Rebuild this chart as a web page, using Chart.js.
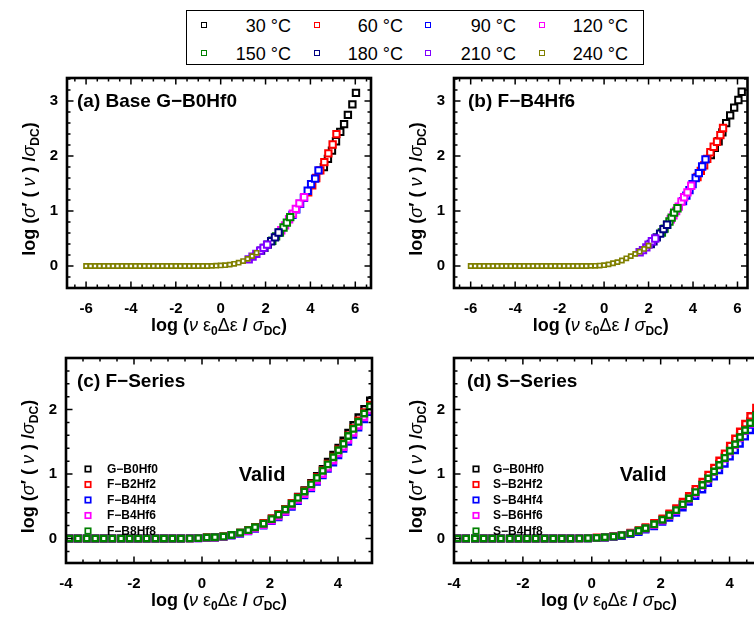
<!DOCTYPE html>
<html>
<head>
<meta charset="utf-8">
<script src="https://cdn.jsdelivr.net/npm/chart.js@4.4.1/dist/chart.umd.min.js"></script>
<style>
html,body{margin:0;padding:0;width:754px;height:619px;overflow:hidden;background:#fff;}
canvas{position:absolute;}
#topLegend{position:absolute;left:186px;top:10px;width:458px;height:55px;box-sizing:border-box;border:1.5px solid #000;font-family:'Liberation Sans',Arial,sans-serif;font-size:18px;color:#000;}
#topLegend .mk{position:absolute;width:4px;height:4px;border:1.8px solid #000;background:#fff;}
#topLegend .tx{position:absolute;width:80px;text-align:right;line-height:20px;white-space:nowrap;}
</style>
</head>
<body>
<div id="topLegend"></div>
<canvas id="pa" width="380" height="280" style="left:0px;top:60px"></canvas>
<canvas id="pb" width="374" height="280" style="left:380px;top:60px"></canvas>
<canvas id="pc" width="380" height="279" style="left:0px;top:340px"></canvas>
<canvas id="pd" width="400" height="279" style="left:380px;top:340px"></canvas>
<script>
// ---------------- DATA ----------------
const tempLabels = ['30 °C','60 °C','90 °C','120 °C','150 °C','180 °C','210 °C','240 °C'];
const tempColors = ['#000000','#FF0000','#0000FF','#FF00FF','#008000','#000080','#8000FF','#808000'];

// Panel (a) Base G−B0Hf0
const A_x30  = [4.60, 4.78, 4.96, 5.14, 5.33, 5.50, 5.67, 5.87, 6.03];
const A_y30  = [1.80, 1.95, 2.10, 2.27, 2.44, 2.58, 2.75, 2.94, 3.15];
const A_x60  = [3.90, 4.08, 4.26, 4.44, 4.62, 4.80, 4.99, 5.16];
const A_y60  = [1.34, 1.47, 1.60, 1.74, 1.89, 2.05, 2.21, 2.40];
const A_x90  = [3.20, 3.37, 3.54, 3.71, 3.88, 4.03, 4.21, 4.36];
const A_y90  = [0.93, 1.03, 1.13, 1.24, 1.37, 1.49, 1.59, 1.74];
const A_x120 = [2.70, 2.87, 3.05, 3.22, 3.35, 3.51, 3.72];
const A_y120 = [0.65, 0.74, 0.85, 0.95, 1.04, 1.14, 1.25];
const A_x150 = [2.30, 2.47, 2.64, 2.80, 2.95, 3.10];
const A_y150 = [0.46, 0.54, 0.61, 0.70, 0.79, 0.89];
const A_x180 = [1.80, 1.95, 2.10, 2.25, 2.42, 2.58];
const A_y180 = [0.28, 0.33, 0.39, 0.45, 0.52, 0.61];
const A_x210 = [1.25, 1.42, 1.59, 1.76, 1.91, 2.07];
const A_y210 = [0.12, 0.17, 0.22, 0.28, 0.33, 0.39];
const A_x240 = [-6.0,-5.8,-5.6,-5.4,-5.2,-5.0,-4.8,-4.6,-4.4,-4.2,-4.0,-3.8,-3.6,-3.4,-3.2,-3.0,-2.8,-2.6,-2.4,-2.2,-2.0,-1.8,-1.6,-1.4,-1.2,-1.0,-0.8,-0.6,-0.4,-0.2,0.0,0.2,0.4,0.6,0.8,1.0,1.2,1.4,1.6];
const A_y240 = [0,0,0,0,0,0,0,0,0,0,0,0,0,0,0,0,0,0,0,0,0,0,0,0,0,0,0,0,0.003,0.006,0.01,0.015,0.025,0.04,0.06,0.09,0.13,0.18,0.24];

// Panel (b) F−B4Hf6
const B_x30  = [4.80, 4.98, 5.15, 5.32, 5.49, 5.67, 5.85, 6.04, 6.19];
const B_y30  = [2.02, 2.15, 2.27, 2.43, 2.60, 2.74, 2.88, 3.02, 3.17];
const B_x60  = [4.20, 4.35, 4.50, 4.64, 4.78, 4.93, 5.08, 5.23, 5.35];
const B_y60  = [1.62, 1.73, 1.83, 1.95, 2.07, 2.17, 2.26, 2.38, 2.51];
const B_x90  = [3.55, 3.70, 3.84, 3.98, 4.12, 4.26, 4.41, 4.56];
const B_y90  = [1.18, 1.28, 1.38, 1.49, 1.60, 1.69, 1.81, 1.94];
const B_x120 = [3.00, 3.12, 3.24, 3.36, 3.48, 3.60, 3.75, 3.92];
const B_y120 = [0.85, 0.92, 1.00, 1.08, 1.17, 1.25, 1.34, 1.46];
const B_x150 = [2.60, 2.72, 2.84, 2.94, 3.04, 3.15, 3.30];
const B_y150 = [0.61, 0.68, 0.75, 0.81, 0.88, 0.97, 1.05];
const B_x180 = [2.10, 2.22, 2.37, 2.52, 2.67, 2.83];
const B_y180 = [0.40, 0.45, 0.52, 0.59, 0.67, 0.75];
const B_x210 = [1.60, 1.75, 1.90, 2.00, 2.15, 2.30];
const B_y210 = [0.25, 0.29, 0.34, 0.39, 0.45, 0.50];
const B_x240 = [-6.0,-5.8,-5.6,-5.4,-5.2,-5.0,-4.8,-4.6,-4.4,-4.2,-4.0,-3.8,-3.6,-3.4,-3.2,-3.0,-2.8,-2.6,-2.4,-2.2,-2.0,-1.8,-1.6,-1.4,-1.2,-1.0,-0.8,-0.6,-0.4,-0.2,0.0,0.2,0.4,0.6,0.8,1.0,1.2,1.4,1.6,1.8,2.0];
const B_y240 = [0,0,0,0,0,0,0,0,0,0,0,0,0,0,0,0,0,0,0,0,0,0,0,0,0,0,0,0.002,0.004,0.008,0.015,0.03,0.05,0.07,0.10,0.14,0.18,0.22,0.26,0.31,0.37];

// Panels (c) and (d): shared scaled-frequency positions
const CD_x = [-3.90,-3.65,-3.39,-3.14,-2.89,-2.64,-2.38,-2.13,-1.88,-1.63,-1.37,-1.12,-0.87,-0.62,-0.36,-0.11,
  0.14,0.38,0.63,0.87,1.12,1.36,1.56,1.81,2.05,2.25,2.45,2.64,2.82,3.01,3.21,3.38,3.55,3.70,3.86,4.01,4.16,4.30,4.45,4.60,4.77,4.94];

const C_labels = ['G−B0Hf0','F−B2Hf2','F−B4Hf4','F−B4Hf6','F−B8Hf8'];
const D_labels = ['G−B0Hf0','S−B2Hf2','S−B4Hf4','S−B6Hf6','S−B4Hf8'];
const sampleColors = ['#000000','#FF0000','#0000FF','#FF00FF','#008000'];

const C_y0 = [0,0,0,0,0,0,0,0,0,0,0,0,0,0,0.002,0.006, 0.015,0.02,0.03,0.055,0.09,0.13,0.175,0.235,0.31,0.38,0.46,0.55,0.65,0.75,0.86,0.97,1.08,1.19,1.30,1.41,1.52,1.64,1.76,1.88,2.01,2.14];
const C_y1 = [0,0,0,0,0,0,0,0,0,0,0,0,0,0,0.002,0.006, 0.015,0.02,0.03,0.055,0.09,0.13,0.18,0.24,0.31,0.38,0.46,0.55,0.64,0.74,0.85,0.95,1.06,1.16,1.27,1.38,1.48,1.60,1.71,1.83,1.96,2.07];
const C_y2 = [0,0,0,0,0,0,0,0,0,0,0,0,0,0,0.002,0.005, 0.01,0.015,0.025,0.045,0.075,0.11,0.15,0.20,0.27,0.33,0.41,0.49,0.58,0.67,0.78,0.88,0.98,1.08,1.18,1.29,1.39,1.50,1.61,1.72,1.85,1.96];
const C_y3 = [0,0,0,0,0,0,0,0,0,0,0,0,0,0,0.002,0.005, 0.01,0.015,0.025,0.05,0.08,0.115,0.16,0.21,0.28,0.345,0.42,0.51,0.60,0.69,0.80,0.90,1.00,1.10,1.21,1.32,1.42,1.53,1.64,1.75,1.88,1.99];
const C_y4 = [0,0,0,0,0,0,0,0,0,0,0,0,0,0,0.002,0.006, 0.015,0.02,0.03,0.055,0.09,0.13,0.175,0.23,0.30,0.37,0.45,0.54,0.63,0.73,0.84,0.94,1.05,1.15,1.26,1.37,1.47,1.59,1.70,1.81,1.94,2.05];

const D_y0 = [0,0,0,0,0,0,0,0,0,0,0,0,0,0,0.002,0.005, 0.01,0.02,0.03,0.05,0.08,0.12,0.16,0.22,0.29,0.37,0.45,0.54,0.63,0.73,0.84,0.94,1.05,1.16,1.27,1.38,1.48,1.59,1.70,1.82,1.93,2.04];
const D_y1 = [0,0,0,0,0,0,0,0,0,0,0,0,0,0,0.002,0.006, 0.015,0.02,0.035,0.055,0.09,0.13,0.175,0.24,0.31,0.39,0.47,0.57,0.66,0.77,0.88,0.99,1.10,1.21,1.32,1.44,1.55,1.66,1.78,1.90,2.03,2.15];
const D_y2 = [0,0,0,0,0,0,0,0,0,0,0,0,0,0,0.002,0.004, 0.01,0.015,0.025,0.04,0.07,0.10,0.14,0.19,0.26,0.32,0.40,0.48,0.57,0.66,0.76,0.86,0.96,1.06,1.16,1.27,1.37,1.47,1.58,1.68,1.80,1.90];
const D_y3 = [0,0,0,0,0,0,0,0,0,0,0,0,0,0,0.002,0.005, 0.01,0.02,0.03,0.05,0.08,0.115,0.155,0.21,0.28,0.35,0.43,0.52,0.61,0.71,0.82,0.92,1.03,1.13,1.24,1.35,1.45,1.56,1.67,1.78,1.89,2.00];
const D_y4 = [0,0,0,0,0,0,0,0,0,0,0,0,0,0,0.002,0.005, 0.01,0.02,0.03,0.05,0.08,0.12,0.16,0.22,0.29,0.36,0.44,0.53,0.62,0.72,0.83,0.93,1.04,1.14,1.25,1.36,1.46,1.57,1.68,1.79,1.90,2.00];

// tick labels
const xTicksAB = [-6,-4,-2,0,2,4,6];
const yTicksAB = [0,1,2,3];
const xTicksCD = [-4,-2,0,2,4];
const yTicksCD = [0,1,2];

// ---------------- DRAWING ----------------
const FONT = "'Liberation Sans', Arial, Helvetica, sans-serif";
const B18 = `bold 18px ${FONT}`, N18 = `18px ${FONT}`, I18 = `italic 18px ${FONT}`, S12 = `bold 12px ${FONT}`;
const xTitleSegs = [{t:'log (',f:B18},{t:'ν',f:I18},{t:' ε',f:N18},{t:'0',f:S12,dy:4},{t:'Δε',f:N18},{t:' / ',f:B18},{t:'σ',f:I18},{t:'DC',f:S12,dy:4},{t:')',f:B18}];
const yTitleSegs = [{t:'log (',f:B18},{t:'σ',f:I18},{t:'′',f:B18},{t:' ( ',f:B18},{t:'ν',f:I18},{t:' ) /',f:B18},{t:'σ',f:I18},{t:'DC',f:S12,dy:4},{t:')',f:B18}];

function pts(xs, ys){ return xs.map((x,i)=>({x:x, y:ys[i]})); }

function drawRich(ctx, segs, cx, y){
  let w = 0;
  for (const s of segs){ ctx.font = s.f; w += ctx.measureText(s.t).width; }
  let x = cx - w/2;
  for (const s of segs){ ctx.font = s.f; ctx.fillText(s.t, x, y + (s.dy||0)); x += ctx.measureText(s.t).width; }
}

const framePlugin = {
  id: 'frame',
  afterDraw(chart, args, o){
    const ctx = chart.ctx, ca = chart.chartArea, xs = chart.scales.x, ys = chart.scales.y;
    ctx.save();
    ctx.strokeStyle = '#000'; ctx.fillStyle = '#000'; ctx.lineWidth = 1.5;
    ctx.beginPath();
    for (let k = Math.ceil(xs.min/o.xMinor - 1e-9); k*o.xMinor <= xs.max + 1e-9; k++){
      const v = k*o.xMinor, major = o.xMajor.some(t => Math.abs(t-v) < 1e-6), L = major ? 6.5 : 3.5;
      const p = xs.getPixelForValue(v);
      ctx.moveTo(p, ca.bottom); ctx.lineTo(p, ca.bottom - L);
      ctx.moveTo(p, ca.top); ctx.lineTo(p, ca.top + L);
    }
    for (let k = Math.ceil(ys.min/o.yMinor - 1e-9); k*o.yMinor <= ys.max + 1e-9; k++){
      const v = k*o.yMinor, major = o.yMajor.some(t => Math.abs(t-v) < 1e-6), L = major ? 6.5 : 3.5;
      const p = ys.getPixelForValue(v);
      ctx.moveTo(ca.left, p); ctx.lineTo(ca.left + L, p);
      ctx.moveTo(ca.right, p); ctx.lineTo(ca.right - L, p);
    }
    ctx.stroke();
    ctx.lineWidth = 2.6;
    ctx.strokeRect(ca.left, ca.top, ca.right - ca.left, ca.bottom - ca.top);

    ctx.textBaseline = 'alphabetic'; ctx.textAlign = 'left';
    drawRich(ctx, xTitleSegs, (ca.left + ca.right)/2, ca.bottom + 43);
    ctx.save();
    ctx.translate(ca.left - 32, (ca.top + ca.bottom)/2 + 6);
    ctx.rotate(-Math.PI/2);
    drawRich(ctx, yTitleSegs, 0, 0);
    ctx.restore();

    ctx.font = `bold 19px ${FONT}`;
    ctx.fillText(o.label, ca.left + o.labelDx, ca.top + 29);
    if (o.valid){
      ctx.font = `bold 20px ${FONT}`; ctx.textAlign = 'center';
      ctx.fillText('Valid', ca.left + o.validDx, ca.top + 123);
      ctx.textAlign = 'left';
    }
    if (o.legend){
      ctx.font = `bold 12px ${FONT}`; ctx.textBaseline = 'middle';
      chart.data.datasets.forEach((ds, i) => {
        const yy = ca.top + 111 + i*15.5, xx = ca.left + o.legMk;
        ctx.lineWidth = 1.7; ctx.strokeStyle = ds.borderColor; ctx.fillStyle = '#fff';
        ctx.fillRect(xx-2.7, yy-2.7, 5.4, 5.4); ctx.strokeRect(xx-2.7, yy-2.7, 5.4, 5.4);
        ctx.fillStyle = '#000';
        ctx.fillText(ds.label, ca.left + o.legTx, yy + 0.5);
      });
    }
    ctx.restore();
  }
};

function makeChart(id, cfg){
  const tickFont = {family: FONT, size: 15, weight: 'bold'};
  return new Chart(document.getElementById(id), {
    type: 'scatter',
    data: { datasets: cfg.datasets },
    options: {
      responsive: false, animation: false, events: [],
      layout: { padding: cfg.pad },
      plugins: { legend: {display:false}, tooltip: {enabled:false}, frame: cfg.frame },
      scales: {
        x: { type:'linear', min: cfg.xMin, max: cfg.xMax,
             grid:{display:false, drawTicks:false}, border:{display:false},
             ticks:{font: tickFont, color:'#000', padding: 12, maxRotation:0, autoSkip:false, callback: v => String(v)},
             afterBuildTicks: ax => { ax.ticks = cfg.xTicks.map(v => ({value:v})); },
             afterFit: ax => { ax.height = cfg.xH; } },
        y: { type:'linear', min: cfg.yMin, max: cfg.yMax,
             grid:{display:false, drawTicks:false}, border:{display:false},
             ticks:{font: tickFont, color:'#000', padding: 9, autoSkip:false, callback: v => String(v)},
             afterBuildTicks: ax => { ax.ticks = cfg.yTicks.map(v => ({value:v})); },
             afterFit: ax => { ax.width = cfg.yW; } }
      }
    },
    plugins: [framePlugin]
  });
}

function tempSets(xsList, ysList){
  return xsList.map((xs, i) => ({
    label: tempLabels[i], data: pts(xs, ysList[i]), showLine:false,
    pointStyle:'rect', pointRadius: i === 7 ? 2.9 : 4.5, borderWidth: i === 7 ? 1.7 : 2.0,
    borderColor: tempColors[i], backgroundColor:'#fff', order: 8 - i
  }));
}
function sampleSets(labels, ysList){
  return ysList.map((ys, i) => ({
    label: labels[i], data: pts(CD_x, ys), showLine:false,
    pointStyle:'rect', pointRadius: 3.9, borderWidth: 2.4,
    borderColor: sampleColors[i], backgroundColor:'#fff', order: 5 - i
  }));
}

makeChart('pa', {
  datasets: tempSets([A_x30,A_x60,A_x90,A_x120,A_x150,A_x180,A_x210,A_x240],[A_y30,A_y60,A_y90,A_y120,A_y150,A_y180,A_y210,A_y240]),
  pad:{top:13,right:9,left:0,bottom:0}, yW:67, xH:52,
  xMin:-6.85, xMax:6.7, yMin:-0.4, yMax:3.42, xTicks:xTicksAB, yTicks:yTicksAB,
  frame:{xMinor:0.5, yMinor:0.2, xMajor:xTicksAB, yMajor:yTicksAB, label:'(a) Base G−B0Hf0', labelDx:10}
});
makeChart('pb', {
  datasets: tempSets([B_x30,B_x60,B_x90,B_x120,B_x150,B_x180,B_x210,B_x240],[B_y30,B_y60,B_y90,B_y120,B_y150,B_y180,B_y210,B_y240]),
  pad:{top:13,right:3,left:0,bottom:0}, yW:74, xH:52,
  xMin:-6.75, xMax:6.45, yMin:-0.4, yMax:3.42, xTicks:xTicksAB, yTicks:yTicksAB,
  frame:{xMinor:0.5, yMinor:0.2, xMajor:xTicksAB, yMajor:yTicksAB, label:'(b) F−B4Hf6', labelDx:14}
});
makeChart('pc', {
  datasets: sampleSets(C_labels, [C_y0,C_y1,C_y2,C_y3,C_y4]),
  pad:{top:10,right:8,left:0,bottom:0}, yW:66, xH:56,
  xMin:-4, xMax:5, yMin:-0.38, yMax:2.8, xTicks:xTicksCD, yTicks:yTicksCD,
  frame:{xMinor:0.5, yMinor:0.2, xMajor:xTicksCD, yMajor:yTicksCD, label:'(c) F−Series', labelDx:11, valid:true, validDx:196, legend:true, legMk:22, legTx:41}
});
makeChart('pd', {
  datasets: sampleSets(D_labels, [D_y0,D_y1,D_y2,D_y3,D_y4]),
  pad:{top:10,right:16,left:0,bottom:0}, yW:74, xH:56,
  xMin:-4, xMax:5, yMin:-0.38, yMax:2.8, xTicks:xTicksCD, yTicks:yTicksCD,
  frame:{xMinor:0.5, yMinor:0.2, xMajor:xTicksCD, yMajor:yTicksCD, label:'(d) S−Series', labelDx:13, valid:true, validDx:189, legend:true, legMk:22, legTx:39}
});

// shared temperature legend
(function(){
  const box = document.getElementById('topLegend');
  const mkX = [18, 131, 242, 356], txR = [104, 216, 329, 441], rowY = [15, 43];
  tempLabels.forEach((lab, i) => {
    const c = i % 4, r = Math.floor(i / 4);
    const mk = document.createElement('div');
    mk.className = 'mk'; mk.style.borderColor = tempColors[i];
    mk.style.left = (mkX[c] - 3.8) + 'px'; mk.style.top = (rowY[r] - 3.8) + 'px';
    box.appendChild(mk);
    const tx = document.createElement('div');
    tx.className = 'tx'; tx.textContent = lab;
    tx.style.left = (txR[c] - 80) + 'px'; tx.style.top = (rowY[r] - 10) + 'px';
    box.appendChild(tx);
  });
})();
</script>
</body>
</html>
